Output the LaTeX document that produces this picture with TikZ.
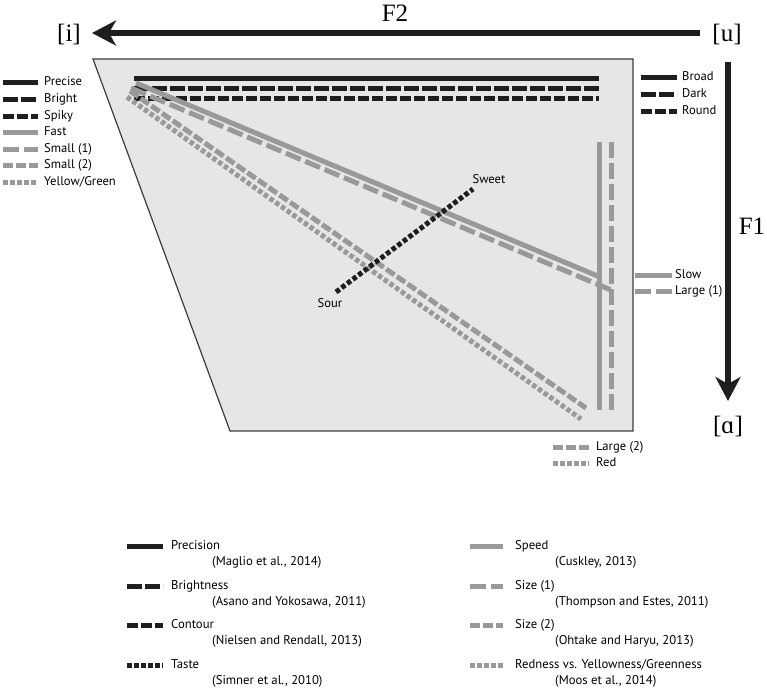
\documentclass[tikz,border=0pt]{standalone}
\usepackage{fontspec}
\setmainfont{PT Sans}
\newfontfamily\ipafont{Liberation Serif}
\usetikzlibrary{arrows.meta}
\definecolor{inkblack}{HTML}{1E1E1E}
\definecolor{inkgray}{HTML}{999999}
\definecolor{panelfill}{HTML}{E6E6E6}
\definecolor{panelline}{HTML}{3C3C3C}
\tikzset{
  blk/.style={line width=5pt, draw=inkblack},
  gry/.style={line width=5pt, draw=inkgray},
  brightpat/.style={dash pattern=on 15pt off 3pt},
  spikypat/.style={dash pattern=on 11pt off 3pt},
  smallonepat/.style={dash pattern=on 16pt off 5pt},
  smalltwopat/.style={dash pattern=on 10pt off 3pt},
  dotpat/.style={dash pattern=on 4.5pt off 2.5pt},
  lab/.style={font=\fontsize{12.6}{14}\selectfont, inner sep=0pt, anchor=west, text height=1.5ex, text depth=0.3ex},
  leg/.style={font=\fontsize{12.7}{14}\selectfont, inner sep=0pt, anchor=west, text height=1.5ex, text depth=0.3ex},
  ipa/.style={font=\ipafont\fontsize{25}{28}\selectfont, inner sep=0pt},
  bigarrow/.style={line width=6pt, draw=inkblack, -{Stealth[length=24pt,width=25pt,inset=7pt]}},
}
\begin{document}
\begin{tikzpicture}[x=1pt,y=-1pt]
\useasboundingbox (0,0) rectangle (767,690);
% axis labels
\node[ipa] (i) at (69,35) {[i]};
\node[ipa] (u) at (727,35) {[u]};
\node[ipa] (a) at (728,426) {[ɑ]};
\node[ipa] (F2) at (395,13) {F2};
\node[ipa] (F1) at (752,226) {F1};
\coordinate (F2s) at (700,33);
\coordinate (F2e) at (92,33);
\coordinate (F1s) at (728,62);
\coordinate (F1e) at (728,401);
\draw[bigarrow] (F2s) -- (F2e);
\draw[bigarrow] (F1s) -- (F1e);
% panel
\filldraw[fill=panelfill, draw=panelline, line width=1.2pt] (93,59) -- (633,59) -- (633,431) -- (230,431) -- cycle;
% horizontal black lines
\coordinate (p1) at (134,79); \coordinate (p2) at (599,79);
\coordinate (b1) at (134,89); \coordinate (b2) at (599,89);
\coordinate (s1) at (134,99); \coordinate (s2) at (599,99);
\draw[blk] (p1) -- (p2);
\draw[blk, brightpat] (b1) -- (b2);
\draw[blk, spikypat] (s1) -- (s2);
% gray diagonals
\coordinate (fa1) at (136,83); \coordinate (fa2) at (600,277);
\coordinate (so1) at (131,88); \coordinate (so2) at (611,290);
\coordinate (st1) at (130,91); \coordinate (st2) at (586,408);
\coordinate (y1) at (127,97); \coordinate (y2) at (581,419);
\draw[gry] (fa1) -- (fa2);
\draw[gry, smallonepat] (so1) -- (so2);
\draw[gry, smalltwopat] (st1) -- (st2);
\draw[gry, dotpat] (y1) -- (y2);
% vertical gray
\coordinate (v1) at (599,142); \coordinate (v2) at (599,410);
\coordinate (w1) at (611,142); \coordinate (w2) at (611,410);
\draw[gry] (v1) -- (v2);
\draw[gry, smallonepat] (w1) -- (w2);
% taste
\node[lab, anchor=center] (sour) at (330,304) {Sour};
\node[lab, anchor=center] (sweet) at (489,180) {Sweet};
\coordinate (ta1) at (336,292); \coordinate (ta2) at (473,189);
\draw[blk, dotpat] (ta1) -- (ta2);
% left legend
\draw[blk] (3,83) -- (38,83); \node[lab] (lPrecise) at (44,83) {Precise};
\draw[blk, brightpat] (3,99.5) -- (38,99.5); \node[lab] (lBright) at (44,99.5) {Bright};
\draw[blk, spikypat] (3,116) -- (38,116); \node[lab] (lSpiky) at (44,116) {Spiky};
\draw[gry] (3,132.5) -- (38,132.5); \node[lab] (lFast) at (44,132.5) {Fast};
\draw[gry, smallonepat] (3,149) -- (38,149); \node[lab] (lSmall1) at (44,149) {Small (1)};
\draw[gry, smalltwopat] (3,165.5) -- (38,165.5); \node[lab] (lSmall2) at (44,165.5) {Small (2)};
\draw[gry, dotpat] (3,182) -- (38,182); \node[lab] (lYellow) at (44,182) {Yellow/Green};
% right top legend
\draw[blk] (641,78) -- (677,78); \node[lab] (lBroad) at (682,78) {Broad};
\draw[blk, brightpat] (641,94.5) -- (677,94.5); \node[lab] (lDark) at (682,94.5) {Dark};
\draw[blk, spikypat] (641,111) -- (677,111); \node[lab] (lRound) at (682,111) {Round};
% right mid legend
\draw[gry] (635,275) -- (672,275); \node[lab] (lSlow) at (675,275) {Slow};
\draw[gry, smallonepat] (635,291.5) -- (672,291.5); \node[lab] (lLarge1) at (675,291.5) {Large (1)};
% bottom mid legend
\draw[gry, smalltwopat] (553,447) -- (589,447); \node[lab] (lLarge2) at (596,447) {Large (2)};
\draw[gry, dotpat] (553,463) -- (589,463); \node[lab] (lRed) at (596,463) {Red};
% bottom legend, left column
\draw[blk] (127,546) -- (163,546); \node[leg] (bPrec) at (171,546) {Precision};
\node[leg] (cPrec) at (212,562) {(Maglio et al., 2014)};
\draw[blk, brightpat] (127,586) -- (163,586); \node[leg] (bBright) at (171,586) {Brightness};
\node[leg] (cBright) at (212,602) {(Asano and Yokosawa, 2011)};
\draw[blk, spikypat] (127,625) -- (163,625); \node[leg] (bCont) at (171,625) {Contour};
\node[leg] (cCont) at (212,641) {(Nielsen and Rendall, 2013)};
\draw[blk, dotpat] (127,665) -- (163,665); \node[leg] (bTaste) at (171,665) {Taste};
\node[leg] (cTaste) at (212,681) {(Simner et al., 2010)};
% bottom legend, right column
\draw[gry] (470,546) -- (503,546); \node[leg] (bSpeed) at (515,546) {Speed};
\node[leg] (cSpeed) at (555,562) {(Cuskley, 2013)};
\draw[gry, smallonepat] (470,586) -- (503,586); \node[leg] (bSize1) at (515,586) {Size (1)};
\node[leg] (cSize1) at (555,602) {(Thompson and Estes, 2011)};
\draw[gry, smalltwopat] (470,625) -- (503,625); \node[leg] (bSize2) at (515,625) {Size (2)};
\node[leg] (cSize2) at (555,641) {(Ohtake and Haryu, 2013)};
\draw[gry, dotpat] (470,665) -- (503,665); \node[leg] (bRed) at (515,665) {Redness vs. Yellowness/Greenness};
\node[leg] (cRed) at (555,681) {(Moos et al., 2014)};
\end{tikzpicture}
\end{document}
